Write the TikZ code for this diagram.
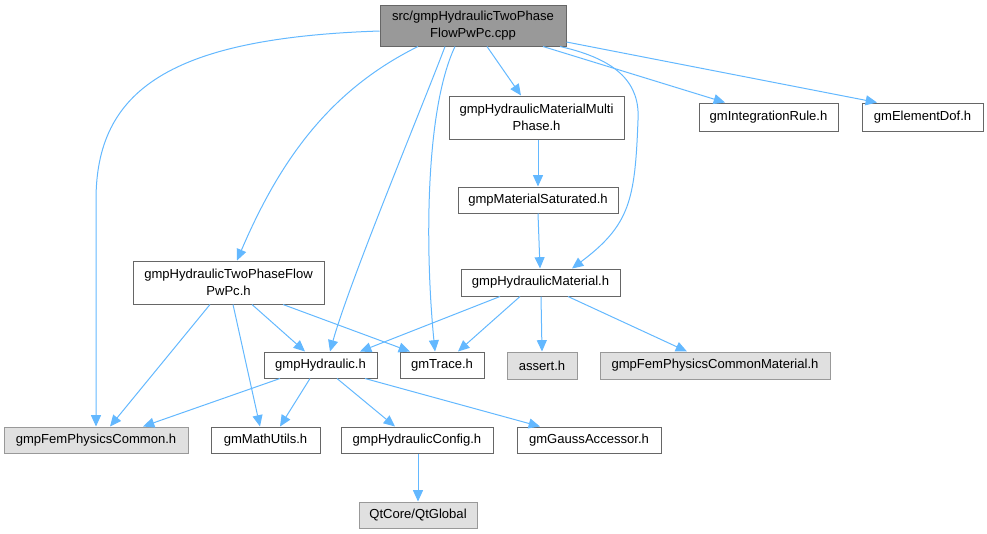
\documentclass[tikz,border=0pt]{standalone}
\usepackage{fontspec}
\setmainfont{Liberation Sans}
\usetikzlibrary{calc}
\usetikzlibrary{arrows.meta}
\definecolor{edgeblue}{HTML}{63B8FF}
\definecolor{boxline}{HTML}{666666}
\definecolor{sysfill}{HTML}{E0E0E0}
\definecolor{sysline}{HTML}{999999}
\newcommand{\filenode}[7]{\node[#1, minimum width=#5*0.75pt, minimum height=#6*0.75pt] (#2) at (#3,#4) {#7};}
\tikzset{
  filebox/.style={draw=boxline, fill=white, line width=0.75pt, inner sep=0pt, align=center, font=\fontsize{9.8}{12.5}\selectfont},
  sysbox/.style={filebox, draw=sysline, fill=sysfill},
  rootbox/.style={filebox, draw=boxline, fill=sysline},
  dep/.style={draw=edgeblue, line width=0.75pt, -{Triangle[length=8.5pt,width=7.5pt]}}
}
\begin{document}
\begin{tikzpicture}[x=0.75pt, y=-0.75pt]
        \useasboundingbox (0,0) rectangle (987,533);
        % top
        \filenode{rootbox}{root}{473}{25.5}{186}{41}{src/gmpHydraulicTwoPhase\\FlowPwPc.cpp}
        % row 1
        \filenode{filebox}{multi}{536.5}{117.5}{175}{43}{gmpHydraulicMaterialMulti\\Phase.h}
        \filenode{filebox}{integ}{768.5}{117}{139}{28}{gmIntegrationRule.h}
        \filenode{filebox}{dof}{922.5}{117}{121}{28}{gmElementDof.h}
        % row 2
        \filenode{filebox}{sat}{538}{200}{160}{26}{gmpMaterialSaturated.h}
        % row 3
        \filenode{filebox}{two}{228.5}{282.5}{191}{43}{gmpHydraulicTwoPhaseFlow\\PwPc.h}
        \filenode{filebox}{hmat}{540.5}{282.5}{159}{27}{gmpHydraulicMaterial.h}
        % row 4
        \filenode{filebox}{hyd}{320.5}{365}{113}{26}{gmpHydraulic.h}
        \filenode{filebox}{trace}{442}{365}{84}{26}{gmTrace.h}
        \filenode{sysbox}{assert}{542}{365.5}{70}{27}{assert.h}
        \filenode{sysbox}{femcm}{715}{365.5}{230}{27}{gmpFemPhysicsCommonMaterial.h}
        % row 5
        \filenode{sysbox}{femc}{96}{440}{184}{26}{gmpFemPhysicsCommon.h}
        \filenode{filebox}{math}{265.5}{440}{109}{26}{gmMathUtils.h}
        \filenode{filebox}{conf}{417}{440}{152}{26}{gmpHydraulicConfig.h}
        \filenode{filebox}{gauss}{589}{440}{144}{26}{gmGaussAccessor.h}
        % row 6
        \filenode{sysbox}{qt}{418}{515}{118}{26}{QtCore/QtGlobal}
        % from the cpp file
        \draw[dep] ($(root.west)+(0,5.5)$) .. controls (170,38) and (96,90) .. (96,200) -- (femc.north);
        \draw[dep] ($(root.south)+(-55,0)$) .. controls (330,90) and (280,160) .. ($(two.north)+(8.5,0)$);
        \draw[dep] ($(root.south)+(-28,0)$) .. controls (425,100) and (350,280) .. ($(hyd.north)+(9.5,0)$);
        \draw[dep] ($(root.south)+(-18,0)$) .. controls (425,110) and (425,250) .. ($(trace.north)+(-7,0)$);
        \draw[dep] ($(root.south)+(14,0)$) -- ($(multi.north)+(-15.5,0)$);
        \draw[dep] ($(root.south)+(87,0)$) .. controls (620,60) and (640,85) .. (638,120) .. controls (635,200) and (630,225) .. ($(hmat.north)+(31.5,0)$);
        \draw[dep] ($(root.south)+(70,0)$) -- ($(integ.north)+(-43.5,0)$);
        \draw[dep] ($(root.east)+(0,16.5)$) -- ($(dof.north)+(-45.5,0)$);
        % material chain
        \draw[dep] ($(multi.south)+(1.5,0)$) -- (sat.north);
        \draw[dep] (sat.south) -- ($(hmat.north)+(-0.5,0)$);
        % from the two phase header
        \draw[dep] ($(two.south)+(-18.5,0)$) -- ($(femc.north)+(14,0)$);
        \draw[dep] ($(two.south)+(4.5,0)$) -- ($(math.north)+(-5.5,0)$);
        \draw[dep] ($(two.south)+(23.5,0)$) -- ($(hyd.north)+(-15.5,0)$);
        \draw[dep] ($(two.south)+(54.5,0)$) -- ($(trace.north)+(-32,0)$);
        % from the material header
        \draw[dep] ($(hmat.south)+(-40.5,0)$) -- ($(hyd.north)+(39.5,0)$);
        \draw[dep] ($(hmat.south)+(-20.5,0)$) -- ($(trace.north)+(16,0)$);
        \draw[dep] ($(hmat.south)+(0.5,0)$) -- (assert.north);
        \draw[dep] ($(hmat.south)+(27.5,0)$) -- ($(femcm.north)+(-28,0)$);
        % from gmpHydraulic.h
        \draw[dep] ($(hyd.south)+(-40.5,0)$) -- ($(femc.north)+(47,0)$);
        \draw[dep] ($(hyd.south)+(-10.5,0)$) -- ($(math.north)+(14.5,0)$);
        \draw[dep] ($(hyd.south)+(16.5,0)$) -- ($(conf.north)+(-22,0)$);
        \draw[dep] ($(hyd.south)+(44.5,0)$) -- ($(gauss.north)+(-49,0)$);
        \draw[dep] ($(conf.south)+(1,0)$) -- (qt.north);
    \end{tikzpicture}
\end{document}
